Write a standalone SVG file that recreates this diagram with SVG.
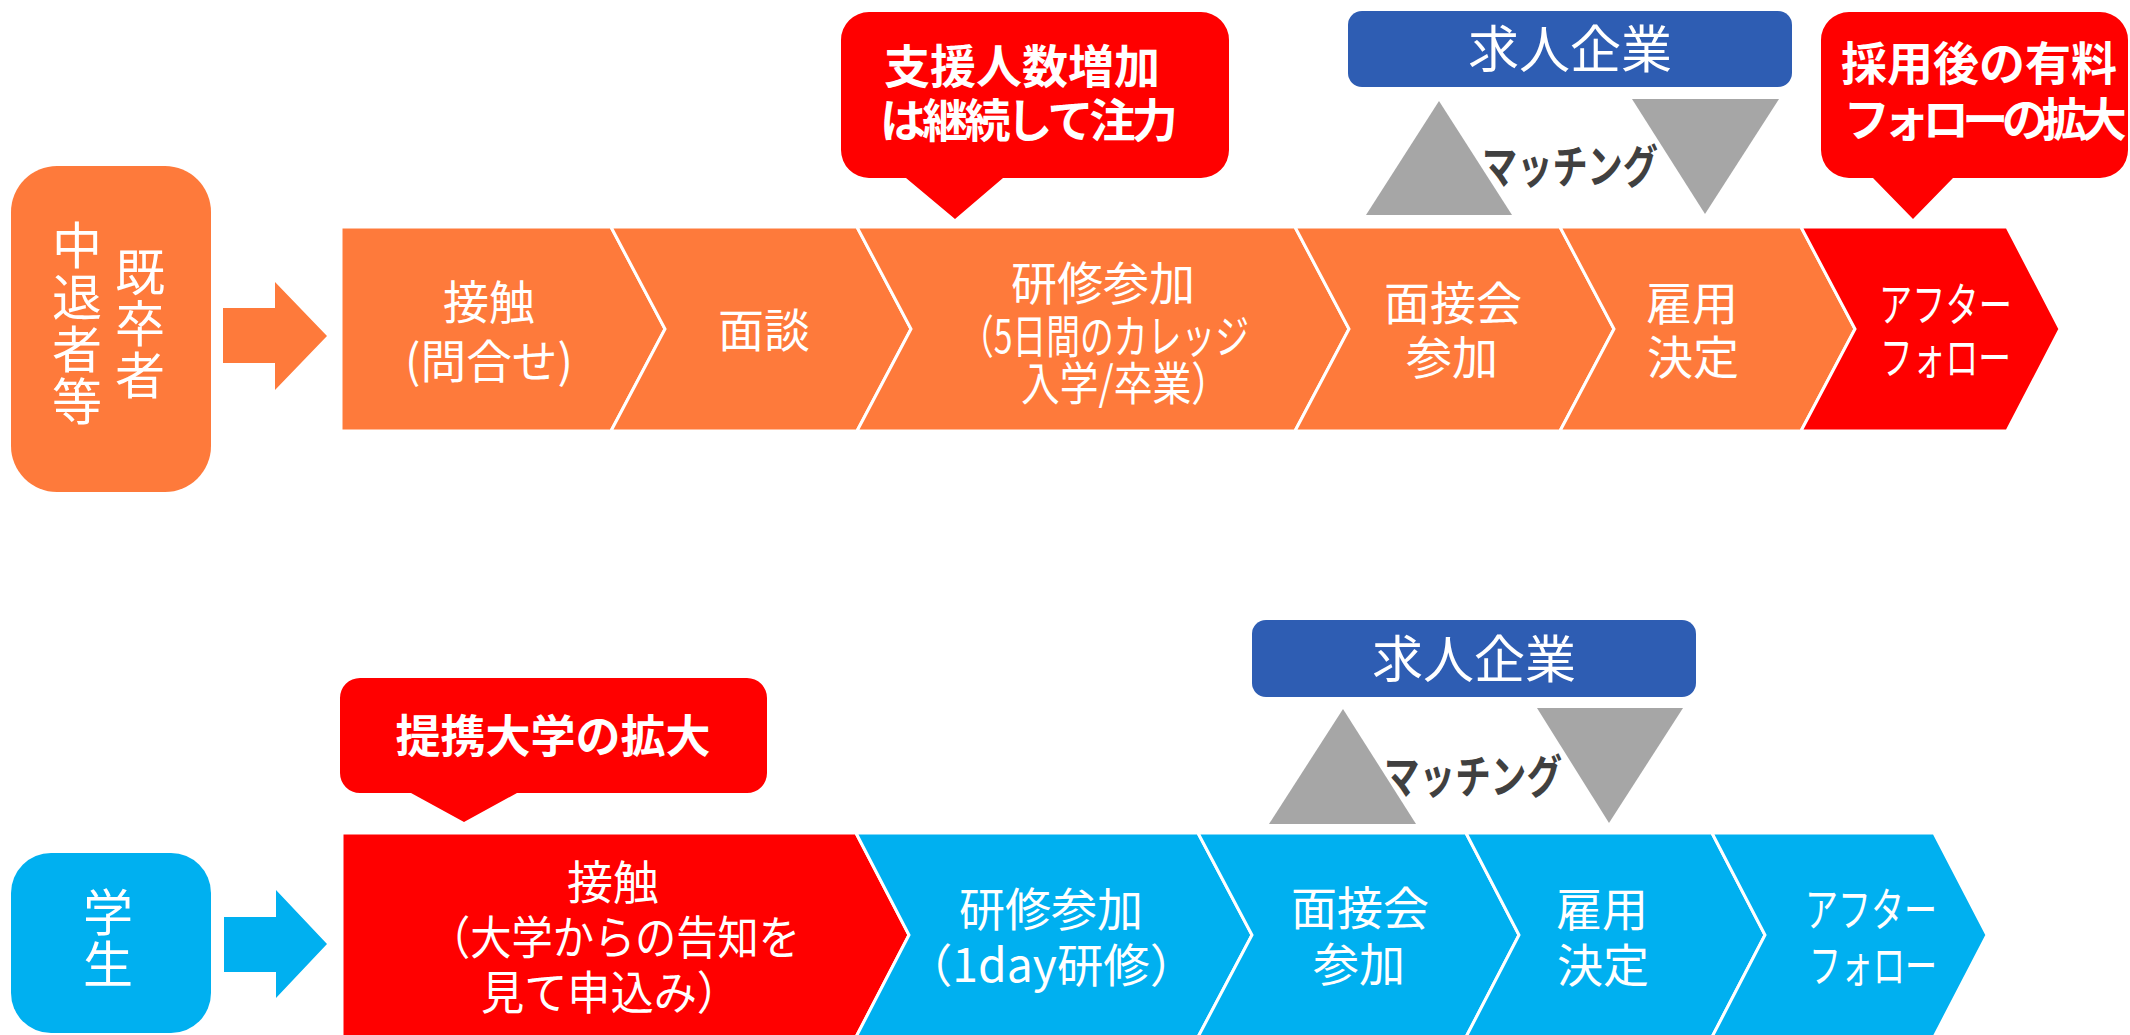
<svg xmlns="http://www.w3.org/2000/svg" width="2130" height="1035" viewBox="0 0 2130 1035">
<style>
  text { font-family: "Noto Sans CJK JP", "Noto Sans", sans-serif; fill: #ffffff; }
  .t { font-size: 46px; }
  .mid { text-anchor: middle; }
  .b { font-weight: bold; font-size: 46px; text-anchor: middle; }
  .v { font-size: 50px; text-anchor: middle; writing-mode: vertical-rl; }
  .corp { font-size: 51px; text-anchor: middle; }
  .match { font-weight: bold; font-size: 46px; fill: #404040; text-anchor: middle; }
  .or { fill: #FE7A3B; stroke: #ffffff; stroke-width: 3; }
  .rd { fill: #FF0000; stroke: #ffffff; stroke-width: 3; }
  .bl { fill: #00B0F0; stroke: #ffffff; stroke-width: 3; }
  .callout { fill: #FF0000; }
  .corpbox { fill: #2E5DB3; }
  .tri { fill: #A6A6A6; }
</style>

<!-- Row 1 -->
<g id="source-kisotsu">
  <rect x="11" y="166" width="200" height="326" rx="46" ry="46" fill="#FE7A3B"/>
  <text class="v" x="140" y="324" style="letter-spacing:1.5px">既卒者</text>
  <text class="v" x="77" y="324" style="letter-spacing:2px">中退者等</text>
</g>

<g id="connectors">
  <polygon fill="#FE7A3B" points="223,308 275,308 275,282 327,336 275,390 275,363 223,363"/>
  <polygon fill="#00B0F0" points="224,917 276,917 276,890 327,944 276,998 276,972 224,972"/>
  <polygon class="tri" points="1366,215 1512,215 1439,101"/>
  <polygon class="tri" points="1632,99 1779,99 1705,214"/>
  <polygon class="tri" points="1269,824 1416,824 1343,709"/>
  <polygon class="tri" points="1537,708 1683,708 1609,823"/>
</g>

<g id="r1-contact">
  <polygon class="or" points="341,227 611,227 665,329 611,431 341,431"/>
  <text class="t mid"><tspan x="489" y="319">接触</tspan><tspan x="489" y="378" textLength="168" lengthAdjust="spacingAndGlyphs">(問合せ)</tspan></text>
</g>
<g id="r1-interview">
  <polygon class="or" points="611,227 857,227 911,329 857,431 611,431 665,329"/>
  <text class="t mid" x="764" y="347">面談</text>
</g>
<g id="r1-training">
  <polygon class="or" points="857,227 1295,227 1349,329 1295,431 857,431 911,329"/>
  <text class="t"><tspan x="1011" y="300" textLength="184" lengthAdjust="spacingAndGlyphs">研修参加</tspan><tspan x="960" y="353" textLength="289" lengthAdjust="spacingAndGlyphs">（5日間のカレッジ</tspan><tspan x="1021" y="400" textLength="209" lengthAdjust="spacingAndGlyphs">入学/卒業）</tspan></text>
</g>
<g id="r1-jobfair">
  <polygon class="or" points="1295,227 1560,227 1614,329 1560,431 1295,431 1349,329"/>
  <text class="t mid"><tspan x="1453" y="320">面接会</tspan><tspan x="1452" y="374">参加</tspan></text>
</g>
<g id="r1-hire">
  <polygon class="or" points="1560,227 1801,227 1855,329 1801,431 1560,431 1614,329"/>
  <text class="t mid"><tspan x="1692" y="320">雇用</tspan><tspan x="1693" y="374">決定</tspan></text>
</g>
<g id="r1-after">
  <polygon class="rd" points="1801,227 2007,227 2060,329 2007,431 1801,431 1855,329"/>
  <text class="t"><tspan x="1879" y="321" textLength="133" lengthAdjust="spacingAndGlyphs">アフター</tspan><tspan x="1880" y="374" textLength="131" lengthAdjust="spacingAndGlyphs">フォロー</tspan></text>
</g>

<g id="r1-callout-support">
  <path class="callout" d="M869,12 H1201 A28,28 0 0 1 1229,40 V150 A28,28 0 0 1 1201,178 H1003 L955,219 L906,178 H869 A28,28 0 0 1 841,150 V40 A28,28 0 0 1 869,12 Z"/>
  <text class="b"><tspan x="1022" y="83">支援人数増加</tspan><tspan x="1027" y="137" style="letter-spacing:-3.8px">は継続して注力</tspan></text>
</g>
<g id="r1-corp">
  <rect class="corpbox" x="1348" y="11" width="444" height="76" rx="14" ry="14"/>
  <text class="corp" x="1570" y="68">求人企業</text>
</g>
<g id="r1-matching">
  <text class="match" x="1570" y="183" textLength="176" lengthAdjust="spacingAndGlyphs">マッチング</text>
</g>
<g id="r1-callout-follow">
  <path class="callout" d="M1849,12 H2100 A28,28 0 0 1 2128,40 V150 A28,28 0 0 1 2100,178 H1953 L1913,219 L1873,178 H1849 A28,28 0 0 1 1821,150 V40 A28,28 0 0 1 1849,12 Z"/>
  <text class="b"><tspan x="1979" y="80">採用後の有料</tspan><tspan x="1982" y="136" style="letter-spacing:-6.5px">フォローの拡大</tspan></text>
</g>

<!-- Row 2 -->
<g id="source-student">
  <rect x="11" y="853" width="200" height="180" rx="40" ry="40" fill="#00B0F0"/>
  <text class="v" x="108" y="939" style="letter-spacing:2px">学生</text>
</g>

<g id="r2-contact">
  <polygon class="rd" points="342,833 856,833 909,935 856,1037 342,1037"/>
  <text class="t"><tspan x="567" y="899">接触</tspan><tspan x="429" y="954" textLength="371" lengthAdjust="spacingAndGlyphs">（大学からの告知を</tspan><tspan x="481" y="1009" textLength="259" lengthAdjust="spacingAndGlyphs">見て申込み）</tspan></text>
</g>
<g id="r2-training">
  <polygon class="bl" points="856,833 1198,833 1252,935 1198,1037 856,1037 909,935"/>
  <text class="t"><tspan x="959" y="926" textLength="184" lengthAdjust="spacingAndGlyphs">研修参加</tspan><tspan x="906" y="982" textLength="290" lengthAdjust="spacingAndGlyphs">（1day研修）</tspan></text>
</g>
<g id="r2-jobfair">
  <polygon class="bl" points="1198,833 1466,833 1519,935 1466,1037 1198,1037 1252,935"/>
  <text class="t mid"><tspan x="1360" y="925">面接会</tspan><tspan x="1359" y="981">参加</tspan></text>
</g>
<g id="r2-hire">
  <polygon class="bl" points="1466,833 1712,833 1765,935 1712,1037 1466,1037 1519,935"/>
  <text class="t mid"><tspan x="1602" y="926">雇用</tspan><tspan x="1603" y="982">決定</tspan></text>
</g>
<g id="r2-after">
  <polygon class="bl" points="1712,833 1934,833 1987,935 1934,1037 1712,1037 1765,935"/>
  <text class="t"><tspan x="1805" y="926" textLength="132" lengthAdjust="spacingAndGlyphs">アフター</tspan><tspan x="1809" y="982" textLength="128" lengthAdjust="spacingAndGlyphs">フォロー</tspan></text>
</g>

<g id="r2-callout-univ">
  <path class="callout" d="M360,678 H747 A20,20 0 0 1 767,698 V773 A20,20 0 0 1 747,793 H517 L464,822 L411,793 H360 A20,20 0 0 1 340,773 V698 A20,20 0 0 1 360,678 Z"/>
  <text class="b" x="553" y="753" style="font-size:45px">提携大学の拡大</text>
</g>
<g id="r2-corp">
  <rect class="corpbox" x="1252" y="620" width="444" height="77" rx="14" ry="14"/>
  <text class="corp" x="1474" y="678">求人企業</text>
</g>
<g id="r2-matching">
  <text class="match" x="1473" y="793" textLength="178" lengthAdjust="spacingAndGlyphs">マッチング</text>
</g>
</svg>
